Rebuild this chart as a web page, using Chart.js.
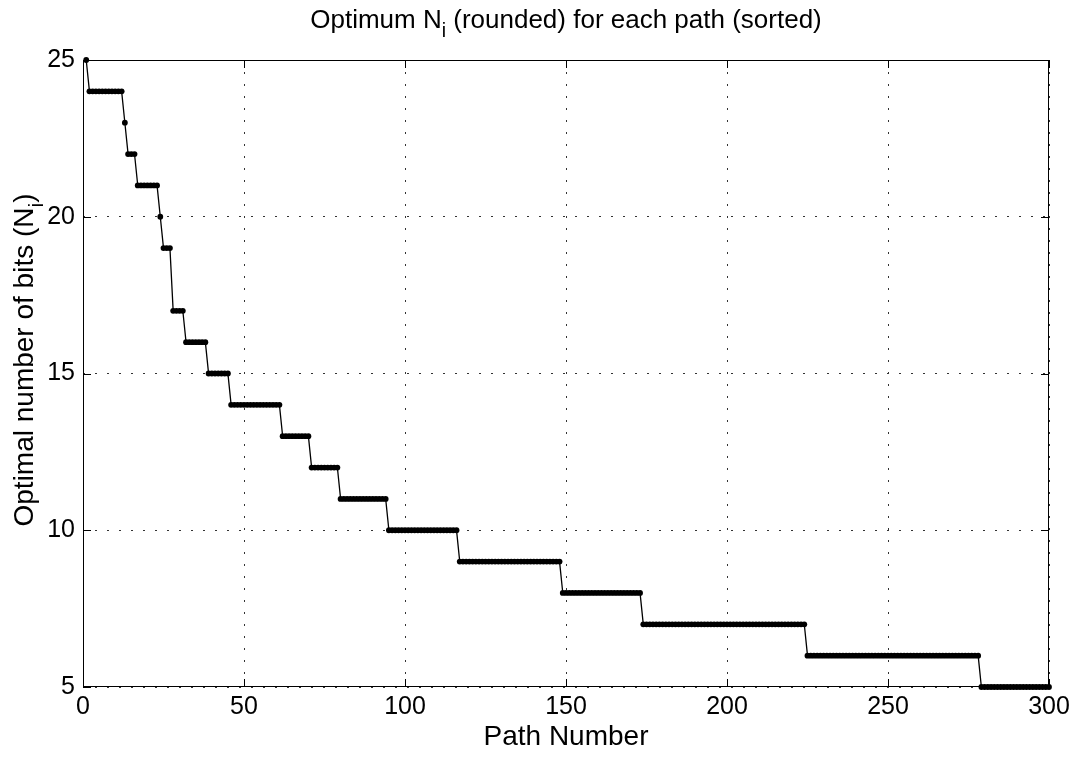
<!DOCTYPE html>
<html>
<head>
<meta charset="utf-8">
<title>Optimum Ni per path</title>
<script src="https://cdn.jsdelivr.net/npm/chart.js@4"></script>
<style>
  html, body { margin: 0; padding: 0; background: #fff; }
  #wrap { width: 1078px; height: 759px; position: relative; }
</style>
</head>
<body>
<div id="wrap"><canvas id="bitsChart"></canvas></div>
<script>

// ---------------- DATA ----------------

// bit levels (sorted, descending) and how many paths sit on each level
const bitLevels  = [25, 24, 23, 22, 21, 20, 19, 17, 16, 15, 14, 13, 12, 11, 10,  9,  8,  7,  6,  5];
const pathCounts = [ 1, 11,  1,  3,  7,  1,  3,  4,  7,  7, 16,  9,  9, 15, 22, 32, 25, 51, 54, 22];

const xTicks = [0, 50, 100, 150, 200, 250, 300];
const yTicks = [5, 10, 15, 20, 25];

const titleParts  = [["Optimum N", false], ["i", true], [" (rounded) for each path (sorted)", false]];
const yLabelParts = [["Optimal number of bits (N", false], ["i", true], [")", false]];
const xLabel = "Path Number";


const points = [];
let pathNo = 1;
bitLevels.forEach((lvl, k) => {
  for (let n = 0; n < pathCounts[k]; n++) {
    points.push({ x: pathNo, y: lvl });
    pathNo++;
  }
});


// ---------------- HELPERS ----------------

const FONT = "'Liberation Sans', Arial, Helvetica, sans-serif";

function drawParts(ctx, parts, size, cx, cy) {
  // text with a subscript piece, centred on (cx, cy)
  const widths = parts.map(([t, sub]) => {
    ctx.font = (sub ? size * 0.75 : size) + "px " + FONT;
    return ctx.measureText(t).width;
  });
  const total = widths.reduce((a, b) => a + b, 0);
  let x = cx - total / 2;
  ctx.textBaseline = "middle";
  ctx.textAlign = "left";
  parts.forEach(([t, sub], i) => {
    ctx.font = (sub ? size * 0.75 : size) + "px " + FONT;
    ctx.fillText(t, x, sub ? cy + size * 0.42 : cy);
    x += widths[i];
  });
}


const frame = {
  id: "frame",

  afterDraw(chart) {
    const { ctx, chartArea: a, scales } = chart;

    ctx.save();
    ctx.fillStyle = "#000";
    ctx.strokeStyle = "#000";
    ctx.lineWidth = 1;

    // box
    ctx.strokeRect(a.left + 0.5, a.top + 0.5, a.right - a.left - 1, a.bottom - a.top - 1);

    // inward ticks on all four sides
    const len = 8;
    ctx.beginPath();
    xTicks.forEach(v => {
      const px = Math.round(scales.x.getPixelForValue(v)) + 0.5;
      ctx.moveTo(px, a.bottom); ctx.lineTo(px, a.bottom - len);
      ctx.moveTo(px, a.top);    ctx.lineTo(px, a.top + len);
    });
    yTicks.forEach(v => {
      const py = Math.round(scales.y.getPixelForValue(v)) + 0.5;
      ctx.moveTo(a.left, py);  ctx.lineTo(a.left + len, py);
      ctx.moveTo(a.right, py); ctx.lineTo(a.right - len, py);
    });
    ctx.stroke();

    // title
    drawParts(ctx, titleParts, 26, (a.left + a.right) / 2, 21);

    // y label, rotated
    ctx.translate(25, 360);
    ctx.rotate(-Math.PI / 2);
    drawParts(ctx, yLabelParts, 28, 0, 0);

    ctx.restore();
  }
};


// ---------------- CHART ----------------

new Chart(document.getElementById("bitsChart"), {

  type: "line",

  data: {
    datasets: [
      {
        data: points,
        borderColor: "#000",
        borderWidth: 1.3,
        backgroundColor: "#000",
        pointRadius: 2.9,
        pointBorderWidth: 0,
        pointBackgroundColor: "#000",
        tension: 0,
        clip: false
      }
    ]
  },

  options: {
    responsive: true,
    maintainAspectRatio: false,
    animation: false,
    layout: { padding: { top: 60, right: 29, left: 0, bottom: 0 } },

    plugins: {
      legend: { display: false },
      tooltip: { enabled: false }
    },

    scales: {
      x: {
        type: "linear",
        min: 0,
        max: 300,
        afterFit: axis => { axis.height = 72; },
        afterBuildTicks: axis => { axis.ticks = xTicks.map(v => ({ value: v })); },
        ticks: { color: "#000", padding: 5, font: { family: FONT, size: 25 } },
        grid: { color: "#333", lineWidth: 1, drawTicks: false },
        border: { display: false, dash: [2, 10] },
        title: {
          display: true,
          text: xLabel,
          color: "#000",
          padding: { top: 0, bottom: 5 },
          font: { family: FONT, size: 28 }
        }
      },

      y: {
        type: "linear",
        min: 5,
        max: 25,
        afterFit: axis => { axis.width = 83; },
        afterBuildTicks: axis => { axis.ticks = yTicks.map(v => ({ value: v })); },
        ticks: { color: "#000", padding: 8, font: { family: FONT, size: 25 } },
        grid: { color: "#333", lineWidth: 1, drawTicks: false },
        border: { display: false, dash: [2, 10] }
      }
    }
  },

  plugins: [frame]
});

</script>
</body>
</html>
